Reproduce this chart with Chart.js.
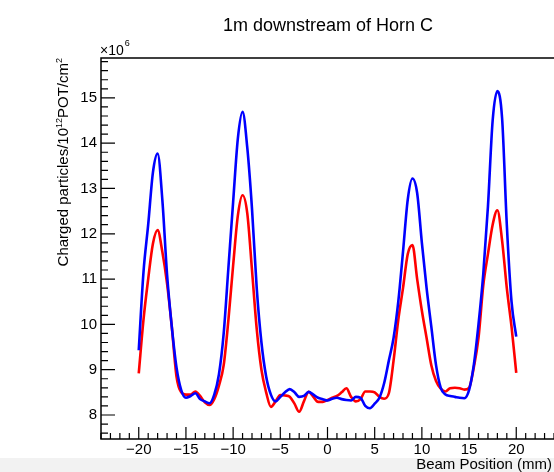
<!DOCTYPE html>
<html>
<head>
<meta charset="utf-8">
<script src="https://cdn.jsdelivr.net/npm/chart.js@4.4.0/dist/chart.umd.min.js"></script>
<style>
  html, body { margin: 0; padding: 0; background: #fff; }
  canvas { display: block; }
</style>
</head>
<body>
<canvas id="hornChart" width="554" height="472"></canvas>
<script>
// beam position (mm)
const positions = [
  -20, -19.5, -19, -18.5, -18, -17.5, -17, -16.5, -16, -15.5,
  -15, -14.5, -14, -13.5, -13, -12.5, -12, -11.5, -11, -10.5,
  -10, -9.5, -9, -8.5, -8, -7.5, -7, -6.5, -6, -5.5,
  -5, -4.5, -4, -3.5, -3, -2.5, -2, -1.5, -1, -0.5,
  0, 0.5, 1, 1.5, 2, 2.5, 3, 3.5, 4, 4.5,
  5, 5.5, 6, 6.5, 7, 7.5, 8, 8.5, 9, 9.5,
  10, 10.5, 11, 11.5, 12, 12.5, 13, 13.5, 14, 14.5,
  15, 15.5, 16, 16.5, 17, 17.5, 18, 18.5, 19, 19.5,
  20
];

// charged particles, units of 10^6
const blueValues = [
  9.43, 11.15, 12.2, 13.35, 13.77, 12.75, 11.1, 9.95, 9.05, 8.55,
  8.38, 8.42, 8.48, 8.35, 8.3, 8.26, 8.45, 8.9, 9.8, 11.25,
  12.7, 14.1, 14.69, 13.9, 12.55, 10.8, 9.6, 8.85, 8.45, 8.3,
  8.4, 8.5, 8.57, 8.5, 8.4, 8.42, 8.51, 8.45, 8.38, 8.35,
  8.32, 8.36, 8.38, 8.35, 8.33, 8.32, 8.4, 8.38, 8.2, 8.15,
  8.25, 8.38, 8.7, 9.2, 9.7, 10.5, 11.6, 12.75, 13.22, 12.9,
  11.8, 10.8, 9.95, 9.1, 8.6, 8.45, 8.42, 8.4, 8.38, 8.37,
  8.55, 9.1, 10.0, 11.1, 12.6, 14.5, 15.15, 14.55, 12.2, 10.5,
  9.73
];

const redValues = [
  8.92, 10.1, 11.0, 11.78, 12.08, 11.6, 10.9, 9.95, 8.85, 8.5,
  8.45, 8.45, 8.52, 8.42, 8.28, 8.22, 8.35, 8.65, 9.1, 10.1,
  11.3, 12.4, 12.85, 12.45, 11.2, 9.9, 9.0, 8.5, 8.18, 8.3,
  8.44, 8.43, 8.4, 8.25, 8.07, 8.3, 8.51, 8.4, 8.29, 8.29,
  8.33, 8.38, 8.42, 8.5, 8.59, 8.4, 8.3, 8.35, 8.52, 8.52,
  8.5, 8.4, 8.36, 8.48, 9.2, 10.1, 10.8, 11.55, 11.75, 11.0,
  10.3, 9.7, 9.1, 8.75, 8.58, 8.52, 8.59, 8.6, 8.59, 8.56,
  8.6, 9.05, 9.7, 10.85, 11.55, 12.2, 12.52, 11.85, 10.8, 9.95,
  8.93
];

const xTicks = [-20, -15, -10, -5, 0, 5, 10, 15, 20];
const yTicks = [8, 9, 10, 11, 12, 13, 14, 15];

const FONT = "'Liberation Sans', Arial, Helvetica, sans-serif";

function toPoints(vals) {
  return positions.map((x, i) => ({ x: x, y: vals[i] }));
}

// ROOT-like frame, inward ticks and texts
const rootDecor = {
  id: "rootDecor",
  beforeDraw(chart) {
    const c = chart.ctx;
    c.save();
    c.fillStyle = "#ffffff";
    c.fillRect(0, 0, chart.width, chart.height);
    c.fillStyle = "#f2f2f2";
    c.fillRect(0, 458, chart.width, chart.height - 458);
    c.restore();
  },
  afterDraw(chart) {
    const c = chart.ctx;
    const a = chart.chartArea;
    const xs = chart.scales.x;
    const ys = chart.scales.y;
    c.save();
    c.strokeStyle = "#000";
    c.lineWidth = 1.5;
    c.beginPath();
    c.moveTo(a.right + 2, a.top);
    c.lineTo(a.left, a.top);
    c.lineTo(a.left, a.bottom);
    c.lineTo(a.right + 2, a.bottom);
    c.stroke();

    c.lineWidth = 1.2;
    c.beginPath();
    for (let v = -24; v <= 24; v++) {
      const px = xs.getPixelForValue(v);
      const len = xTicks.includes(v) ? 12 : 6;
      c.moveTo(px, a.bottom);
      c.lineTo(px, a.bottom - len);
    }
    for (let k = 38; k <= 79; k++) {
      const v = k / 5;
      const py = ys.getPixelForValue(v);
      const len = k % 5 === 0 ? 14 : 7;
      c.moveTo(a.left, py);
      c.lineTo(a.left + len, py);
    }
    c.stroke();

    c.fillStyle = "#000";
    // title
    c.font = "18px " + FONT;
    c.textAlign = "center";
    c.textBaseline = "alphabetic";
    c.fillText("1m downstream of Horn C", 328, 31);

    // exponent
    c.textAlign = "left";
    c.font = "14px " + FONT;
    c.fillText("\u00d710", 100, 55);
    const w10 = c.measureText("\u00d710").width;
    c.font = "9px " + FONT;
    c.fillText("6", 100 + w10 + 1, 46);

    // x title
    c.font = "15px " + FONT;
    c.textAlign = "right";
    c.fillText("Beam Position (mm)", 552, 469);

    // y title, rotated, right end at top
    const parts = [
      ["Charged particles/10", 15, 0],
      ["12", 9, -6],
      ["POT/cm", 15, 0],
      ["2", 9, -6]
    ];
    let total = 0;
    parts.forEach(p => { c.font = p[1] + "px " + FONT; total += c.measureText(p[0]).width; });
    c.translate(68, 58 + total);
    c.rotate(-Math.PI / 2);
    c.textAlign = "left";
    let off = 0;
    parts.forEach(p => {
      c.font = p[1] + "px " + FONT;
      c.fillText(p[0], off, p[2]);
      off += c.measureText(p[0]).width;
    });
    c.restore();
  }
};

const ctx = document.getElementById("hornChart").getContext("2d");

const config = {
  type: "line",
  data: {
    datasets: [
      {
        label: "blue",
        data: toPoints(blueValues),
        borderColor: "rgb(0, 0, 255)",
        borderWidth: 2.6,
        pointRadius: 0,
        cubicInterpolationMode: "monotone",
        fill: false
      },
      {
        label: "red",
        data: toPoints(redValues),
        borderColor: "rgb(255, 0, 0)",
        borderWidth: 2.6,
        pointRadius: 0,
        cubicInterpolationMode: "monotone",
        fill: false
      }
    ]
  },
  options: {
    responsive: false,
    animation: false,
    layout: { padding: { top: 58, right: 0, bottom: 0, left: 0 } },
    plugins: {
      legend: { display: false },
      title: { display: false },
      tooltip: { enabled: false }
    },
    scales: {
      x: {
        type: "linear",
        min: -24,
        max: 24,
        afterFit: s => { s.height = 33; },
        afterBuildTicks: s => { s.ticks = xTicks.map(v => ({ value: v })); },
        grid: { display: false, drawTicks: false },
        border: { display: false },
        ticks: {
          padding: 2,
          color: "#000",
          font: { family: FONT, size: 15 },
          maxRotation: 0,
          autoSkip: false,
          callback: v => String(v).replace("-", "\u2212")
        }
      },
      y: {
        type: "linear",
        min: 7.47,
        max: 15.88,
        afterFit: s => { s.width = 101; },
        afterBuildTicks: s => { s.ticks = yTicks.map(v => ({ value: v })); },
        grid: { display: false, drawTicks: false },
        border: { display: false },
        ticks: {
          padding: 4,
          color: "#000",
          font: { family: FONT, size: 15 },
          autoSkip: false,
          callback: v => String(v)
        }
      }
    }
  },
  plugins: [rootDecor]
};

const hornChart = new Chart(ctx, config);
</script>
</body>
</html>
